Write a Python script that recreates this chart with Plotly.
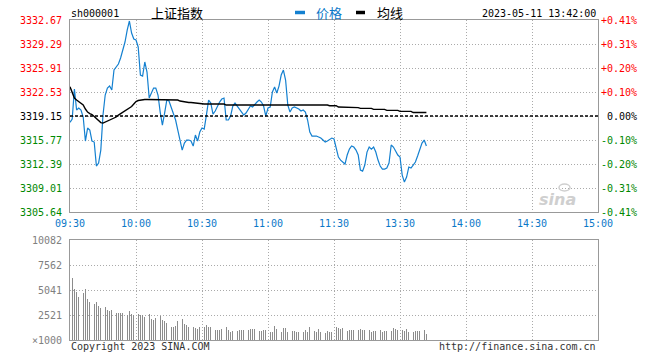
import plotly.graph_objects as go

W, H = 660, 360

# ---------------- data ----------------
prev_close = 3319.15
minutes = list(range(163))  # minutes since 09:30 (13:00 continues at 120)

price = [
    3318.26, 3318.73, 3322.95, 3320.00, 3320.28, 3320.00, 3319.01, 3315.63, 3317.46, 3317.18,
    3315.63, 3315.49, 3312.11, 3312.53, 3314.36, 3319.29, 3322.11, 3323.09, 3323.37, 3322.81,
    3325.63, 3326.05, 3326.47, 3327.32, 3328.45, 3329.57, 3331.26, 3332.53, 3330.84, 3329.99,
    3329.85, 3328.87, 3324.92, 3324.78, 3326.76, 3325.35, 3321.68, 3322.39, 3323.09, 3323.09,
    3322.11, 3319.71, 3317.88, 3319.57, 3321.40, 3321.26, 3320.42, 3319.57, 3318.59, 3317.18,
    3315.49, 3314.36, 3315.35, 3315.77, 3315.77, 3315.63, 3314.93, 3316.47, 3315.63, 3316.90,
    3317.46, 3317.32, 3319.29, 3321.40, 3320.98, 3319.43, 3319.85, 3320.56, 3321.12, 3321.54,
    3321.68, 3318.59, 3318.59, 3319.15, 3320.56, 3320.98, 3320.56, 3320.00, 3319.71, 3319.29,
    3319.57, 3320.00, 3320.56, 3320.42, 3320.84, 3321.12, 3321.40, 3321.12, 3320.56, 3319.15,
    3320.28, 3320.42, 3322.53, 3323.23, 3322.39, 3323.37, 3324.92, 3325.63, 3324.22, 3320.70,
    3319.71, 3320.28, 3320.42, 3320.28, 3320.14, 3319.85, 3320.00, 3319.71, 3318.59, 3316.90,
    3316.33, 3316.33, 3316.33, 3316.19, 3316.05, 3315.77, 3315.49, 3315.63, 3315.91, 3316.05,
    3315.91, 3314.64, 3313.38, 3312.95, 3312.67, 3312.39, 3313.66, 3314.50, 3314.93, 3314.78,
    3314.36, 3313.66, 3311.54, 3311.40, 3312.25, 3314.08, 3314.78, 3314.50, 3314.78, 3314.08,
    3312.95, 3312.11, 3311.69, 3311.69, 3311.83, 3312.53, 3315.07, 3314.78, 3314.22, 3313.66,
    3313.38, 3310.84, 3309.85, 3310.56, 3311.97, 3311.83, 3312.25, 3312.67, 3313.52, 3314.50,
    3315.35, 3315.77, 3314.93,
]

avg = [
    3323.28, 3322.39, 3321.68, 3321.40, 3321.19, 3320.98, 3320.70, 3320.14, 3319.71, 3319.50,
    3319.36, 3319.08, 3318.80, 3318.52, 3318.23, 3318.16, 3318.30, 3318.40, 3318.52, 3318.66,
    3318.80, 3319.01, 3319.29, 3319.50, 3319.67, 3319.85, 3320.07, 3320.28, 3320.49, 3320.84,
    3321.19, 3321.33, 3321.40, 3321.45, 3321.47, 3321.47, 3321.47, 3321.47, 3321.47, 3321.47,
    3321.47, 3321.47, 3321.47, 3321.47, 3321.47, 3321.47, 3321.47, 3321.47, 3321.47, 3321.40,
    3321.26, 3321.19, 3321.12, 3321.12, 3321.05, 3321.05, 3321.00, 3320.98, 3320.94, 3320.94,
    3320.90, 3320.84, 3320.84, 3320.84, 3320.84, 3320.84, 3320.84, 3320.84, 3320.84, 3320.84,
    3320.84, 3320.70, 3320.70, 3320.70, 3320.70, 3320.70, 3320.70, 3320.70, 3320.70, 3320.70,
    3320.70, 3320.70, 3320.70, 3320.70, 3320.70, 3320.70, 3320.70, 3320.70, 3320.70, 3320.70,
    3320.70, 3320.70, 3320.70, 3320.80, 3320.80, 3320.80, 3320.80, 3320.80, 3320.80, 3320.80,
    3320.80, 3320.80, 3320.80, 3320.80, 3320.70, 3320.70, 3320.70, 3320.70, 3320.70, 3320.70,
    3320.70, 3320.70, 3320.70, 3320.70, 3320.70, 3320.70, 3320.70, 3320.70, 3320.60, 3320.60,
    3320.60, 3320.60, 3320.42, 3320.42, 3320.42, 3320.42, 3320.42, 3320.33, 3320.33, 3320.33,
    3320.33, 3320.33, 3320.23, 3320.23, 3320.23, 3320.23, 3320.23, 3320.23, 3320.09, 3320.09,
    3320.09, 3320.09, 3320.09, 3320.09, 3319.95, 3319.95, 3319.95, 3319.95, 3319.95, 3319.95,
    3319.81, 3319.81, 3319.81, 3319.81, 3319.81, 3319.81, 3319.64, 3319.64, 3319.64, 3319.64,
    3319.64, 3319.64, 3319.64,
]

volume = [  # thousands
    10082, 6218, 5109, 4873, 4369, 4705, 4705, 5109, 4100, 3865,
    3697, 3630, 3865, 3428, 3193, 3630, 3361, 3025, 2958, 3025,
    3025, 2689, 2689, 2756, 2689, 2756, 2521, 2924, 2622, 2521,
    3630, 2622, 2521, 2521, 2285, 2521, 2622, 2084, 2017, 2185,
    1949, 2420, 2017, 1949, 1681, 1344, 1344, 1344, 1445, 1949,
    2521, 2084, 1613, 1512, 1344, 1512, 1344, 1176, 1076, 1277,
    1849, 1277, 1512, 1277, 1277, 1277, 1008, 1008, 1008, 1076,
    941, 1344, 1008, 840, 941, 1008, 941, 1008, 1008, 1008,
    1277, 1008, 1109, 1109, 1109, 1109, 941, 941, 1008, 1008,
    941, 840, 840, 1412, 1076, 1008, 840, 1176, 1176, 840,
    1277, 941, 941, 840, 840, 941, 840, 1008, 840, 1277,
    1076, 941, 840, 1076, 840, 739, 739, 941, 840, 840,
    3126, 1277, 1210, 1143, 1176, 1244, 941, 1008, 1008, 1008,
    1210, 1008, 1076, 1008, 1008, 1008, 1008, 840, 941, 941,
    1143, 1008, 840, 907, 941, 1076, 941, 1210, 1143, 1008,
    1008, 1008, 941, 1076, 840, 840, 840, 907, 907, 941,
    840, 1008, 605,
]

price_ticks = [3305.64, 3309.01, 3312.39, 3315.77, 3319.15, 3322.53, 3325.91, 3329.29, 3332.67]
price_labels = ["3305.64", "3309.01", "3312.39", "3315.77", "3319.15", "3322.53", "3325.91", "3329.29", "3332.67"]
pct_labels = ["-0.41%", "-0.31%", "-0.20%", "-0.10%", "0.00%", "+0.10%", "+0.20%", "+0.31%", "+0.41%"]
vol_ticks = [0, 2521, 5041, 7562, 10082]
vol_labels = ["×1000", "2521", "5041", "7562", "10082"]
time_ticks = [0, 30, 60, 90, 120, 150, 180, 210, 240]
time_labels = ["09:30", "10:00", "10:30", "11:00", "11:30", "13:30", "14:00", "14:30", "15:00"]

code = "sh000001"
name = "上证指数"
legend_names = ["价格", "均线"]
stamp = "2023-05-11 13:42:00"

# ---------------- styling ----------------
BLUE = "#1480d0"
BLUE_TXT = "#0a78c8"
RED = "#ff0000"
GREEN = "#008800"
GRAY = "#999999"
MONO = "DejaVu Sans Mono"
CJK = "Noto Sans CJK SC"


def fx(px):
    return px / W


def fy(py):
    return 1 - py / H


X0, X1 = 70, 598
P_TOP, P_BOT = 20, 212
V_TOP, V_BOT = 240, 340

fig = go.Figure()
fig.add_trace(go.Scatter(x=minutes, y=price, mode="lines", line=dict(color=BLUE, width=1.2),
                         name=legend_names[0], xaxis="x", yaxis="y", showlegend=False))
fig.add_trace(go.Scatter(x=minutes, y=avg, mode="lines", line=dict(color="#000000", width=1.4),
                         name=legend_names[1], xaxis="x", yaxis="y", showlegend=False))
fig.add_trace(go.Bar(x=minutes, y=volume, width=0.38, marker=dict(color="#8c8c8c", line=dict(width=0)),
                     xaxis="x2", yaxis="y2", showlegend=False))

grid = dict(showgrid=True, gridcolor="#aaaaaa", griddash="1px,2px", gridwidth=1,
            showline=True, mirror=True, linecolor=GRAY, linewidth=1,
            zeroline=False, showticklabels=False, ticks="", fixedrange=True)

fig.update_layout(
    width=W, height=H, margin=dict(l=0, r=0, t=0, b=0),
    paper_bgcolor="white", plot_bgcolor="white", bargap=0,
    xaxis=dict(domain=[fx(X0), fx(X1)], range=[0, 240], tickvals=time_ticks, anchor="y", **grid),
    yaxis=dict(domain=[fy(P_BOT), fy(P_TOP)], range=[price_ticks[0], price_ticks[-1]],
               tickvals=price_ticks, anchor="x", **grid),
    xaxis2=dict(domain=[fx(X0), fx(X1)], range=[0, 240], tickvals=time_ticks, anchor="y2", **grid),
    yaxis2=dict(domain=[fy(V_BOT), fy(V_TOP)], range=[0, vol_ticks[-1]],
                tickvals=vol_ticks, anchor="x2", **grid),
)

# previous close dashed line
fig.add_shape(type="line", xref="x", yref="y", x0=0, x1=240, y0=prev_close, y1=prev_close,
              line=dict(color="#000000", width=1.6, dash="3px,2px"))

ann = []
for v, lab, pl in zip(price_ticks, price_labels, pct_labels):
    col = RED if v > prev_close else (GREEN if v < prev_close else "#000000")
    ann.append(dict(x=fx(64), xref="paper", y=v, yref="y", text=lab, xanchor="right", yanchor="middle",
                    showarrow=False, font=dict(family=MONO, size=10, color=col)))
    ann.append(dict(x=fx(639), xref="paper", y=v, yref="y", text=pl, xanchor="right", yanchor="middle",
                    showarrow=False, font=dict(family=MONO, size=10, color=col)))
for v, lab in zip(vol_ticks, vol_labels):
    ann.append(dict(x=fx(64), xref="paper", y=v, yref="y2", text=lab, xanchor="right", yanchor="middle",
                    showarrow=False, font=dict(family=MONO, size=10, color="#808080")))
for t, lab in zip(time_ticks, time_labels):
    ann.append(dict(x=t, xref="x", y=fy(223), yref="paper", text=lab, xanchor="center", yanchor="middle",
                    showarrow=False, font=dict(family=MONO, size=10, color=BLUE_TXT)))

# header
ann.append(dict(x=fx(69), xref="paper", y=fy(13.5), yref="paper", text=code, xanchor="left",
                yanchor="middle", showarrow=False, font=dict(family=MONO, size=10, color="#000000")))
ann.append(dict(x=fx(149), xref="paper", y=fy(13), yref="paper", text=name, xanchor="left",
                yanchor="middle", showarrow=False, font=dict(family=CJK, size=13, color="#000000")))
ann.append(dict(x=fx(314), xref="paper", y=fy(13), yref="paper", text=legend_names[0], xanchor="left",
                yanchor="middle", showarrow=False, font=dict(family=CJK, size=13, color=BLUE_TXT)))
ann.append(dict(x=fx(375), xref="paper", y=fy(13), yref="paper", text=legend_names[1], xanchor="left",
                yanchor="middle", showarrow=False, font=dict(family=CJK, size=13, color="#000000")))
ann.append(dict(x=fx(598), xref="paper", y=fy(13.5), yref="paper", text=stamp, xanchor="right",
                yanchor="middle", showarrow=False, font=dict(family=MONO, size=10, color="#000000")))
fig.add_shape(type="line", xref="paper", yref="paper", x0=fx(295), x1=fx(305), y0=fy(12.5), y1=fy(12.5),
              line=dict(color=BLUE, width=3.5))
fig.add_shape(type="line", xref="paper", yref="paper", x0=fx(356), x1=fx(365), y0=fy(12.5), y1=fy(12.5),
              line=dict(color="#000000", width=3.5))

# footer
ann.append(dict(x=fx(69), xref="paper", y=fy(346.5), yref="paper", text="Copyright 2023 SINA.COM",
                xanchor="left", yanchor="middle", showarrow=False,
                font=dict(family=MONO, size=10, color="#333333")))
ann.append(dict(x=fx(598), xref="paper", y=fy(346.5), yref="paper", text="http://finance.sina.com.cn",
                xanchor="right", yanchor="middle", showarrow=False,
                font=dict(family=MONO, size=10, color="#333333")))

# watermark
ann.append(dict(x=fx(557), xref="paper", y=fy(199), yref="paper", text="<b><i>sina</i></b>",
                xanchor="center", yanchor="middle", showarrow=False,
                font=dict(family="DejaVu Sans", size=16, color="#cfcfcf")))
fig.add_shape(type="circle", xref="paper", yref="paper", x0=fx(559), x1=fx(570), y0=fy(191), y1=fy(184),
              line=dict(color="#cfcfcf", width=1.5))

fig.update_layout(annotations=ann)
fig.write_html("out.html", config={"displayModeBar": False, "staticPlot": True},
               post_script="document.body.style.margin='0';document.body.style.overflow='hidden';")
